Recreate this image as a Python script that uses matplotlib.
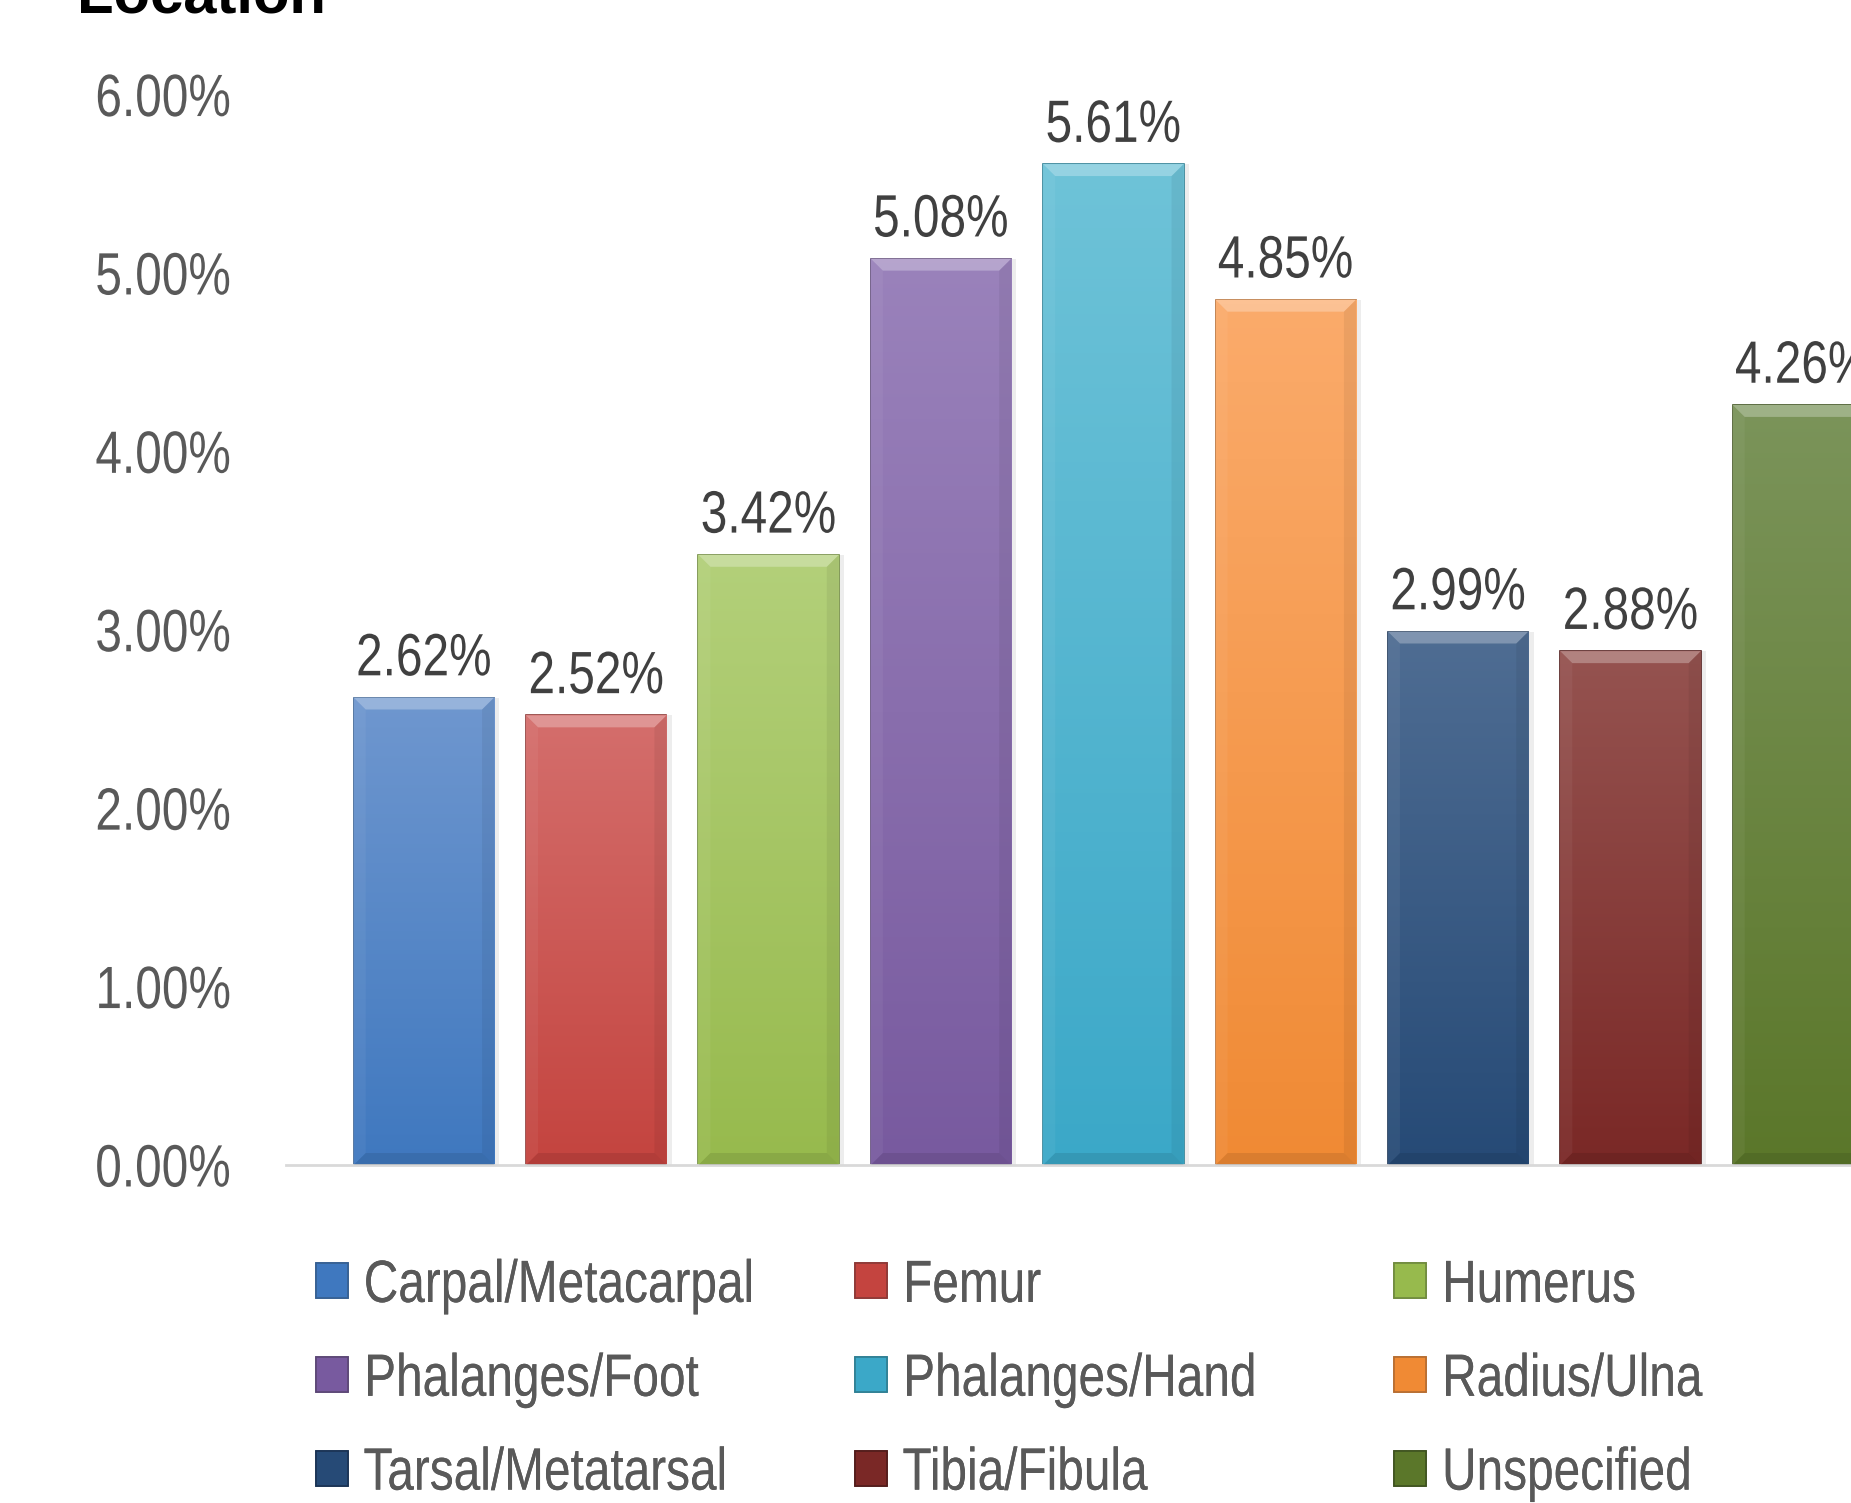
import numpy as np
import matplotlib
matplotlib.use("Agg")
import matplotlib.pyplot as plt
from matplotlib.patches import Patch
from matplotlib.ticker import PercentFormatter
from matplotlib.colors import LinearSegmentedColormap
from matplotlib.patheffects import AbstractPathEffect
from matplotlib.transforms import Affine2D

plt.rcParams['font.family'] = ['Liberation Sans', 'DejaVu Sans']

bones = ["Carpal/Metacarpal", "Femur", "Humerus", "Phalanges/Foot", "Phalanges/Hand",
         "Radius/Ulna", "Tarsal/Metatarsal", "Tibia/Fibula", "Unspecified"]
shares = [2.62, 2.52, 3.42, 5.08, 5.61, 4.85, 2.99, 2.88, 4.26]
tops = ["#6f97cf", "#d46e6c", "#b3d07a", "#9a82bb", "#6ec3d8", "#fbab6b", "#4f6d93", "#955350", "#7b945a"]
bottoms = ["#3f78bf", "#c4443f", "#97ba4d", "#785a9f", "#3ba8c8", "#f08a34", "#264a76", "#7a2826", "#5b772a"]
edges = ["#365f91", "#8c3836", "#6f8a3e", "#5c4776", "#2f7f93", "#b66d31", "#1a3354", "#521c1b", "#3f5320"]

NARROW = 0.80


class Squeeze(AbstractPathEffect):
    """Narrow the glyphs horizontally (no Arial Narrow available)."""
    def __init__(self, sx=NARROW, anchor=0.5):
        super().__init__()
        self.sx, self.anchor = sx, anchor

    def draw_path(self, renderer, gc, tpath, affine, rgbFace=None):
        ext = tpath.get_extents()
        cx = ext.x0 + self.anchor * ext.width
        t = Affine2D().translate(-cx, 0).scale(self.sx, 1).translate(cx, 0) + affine
        renderer.draw_path(gc, tpath, t, rgbFace)


fig = plt.figure(figsize=(18.51, 15.03), dpi=100)
ax = fig.add_axes([0.1545, 0.2249, 0.894, 0.7122])

x = np.arange(len(shares))
# soft shadow
ax.bar(x + 0.03, shares, width=0.815, color="black", alpha=0.07, zorder=1)
bars = ax.bar(x, shares, width=0.815, color=bottoms, edgecolor=edges, linewidth=1.2, zorder=2)

# vertical gradient + bevel inside each bar
grad = np.linspace(0, 1, 256).reshape(-1, 1)
bx, by = 0.07, 0.067
for b, top, bot in zip(bars, tops, bottoms):
    cmap = LinearSegmentedColormap.from_list("g", [bot, top])
    x0, w, h = b.get_x(), b.get_width(), b.get_height()
    im = ax.imshow(grad, cmap=cmap, extent=[x0, x0 + w, 0, h], origin="lower",
                   aspect="auto", zorder=2.5, interpolation="bicubic")
    im.set_clip_path(b)
    x1 = x0 + w
    ax.fill([x0, x1, x1 - bx, x0 + bx], [h, h, h - by, h - by], color="white", alpha=0.28, lw=0, zorder=3)
    ax.fill([x0, x1, x1 - bx, x0 + bx], [0, 0, by, by], color="black", alpha=0.09, lw=0, zorder=3)
    ax.fill([x1, x1, x1 - bx, x1 - bx], [0, h, h - by, by], color="black", alpha=0.06, lw=0, zorder=3)
    ax.fill([x0, x0, x0 + bx, x0 + bx], [0, h, h - by, by], color="white", alpha=0.05, lw=0, zorder=3)

for b, v in zip(bars, shares):
    ax.annotate(f"{v:.2f}%", (b.get_x() + b.get_width() / 2, v), xytext=(0, 16),
                textcoords="offset points", ha="center", va="baseline",
                fontsize=43, color="#404040", zorder=4,
                path_effects=[Squeeze(anchor=0.5)])

ax.set_xlim(-0.80, 8.80)
ax.set_ylim(0, 6)
ax.yaxis.set_major_formatter(PercentFormatter(decimals=2))
ax.set_yticks(np.arange(0, 7, 1))
ax.set_xticks([])
ax.tick_params(axis="y", length=0, pad=39, labelsize=43, labelcolor="#595959")
for lab in ax.get_yticklabels():
    lab.set_path_effects([Squeeze(anchor=1.0)])
for s in ["top", "right", "left"]:
    ax.spines[s].set_visible(False)
ax.spines["bottom"].set_color("#d9d9d9")
ax.spines["bottom"].set_linewidth(2)

fig.text(0.0416, 0.992, "Location", fontsize=43, fontweight="bold", color="black", va="baseline")

# legend: three columns, row-major order as in the original
handles = [Patch(facecolor=c, edgecolor=e, linewidth=1.2) for c, e in zip(bottoms, edges)]
col_x = [316 / 1851, 855 / 1851, 1394 / 1851]
for col in range(3):
    idx = [col, col + 3, col + 6]
    leg = fig.legend([handles[i] for i in idx], [bones[i] for i in idx],
                     loc="upper left", bbox_to_anchor=(col_x[col], 1 - 1259 / 1503),
                     frameon=False, fontsize=43, labelcolor="#595959",
                     handlelength=0.53, handleheight=0.53, handletextpad=0.26,
                     labelspacing=0.65, borderpad=0, borderaxespad=0)
    for t in leg.get_texts():
        t.set_path_effects([Squeeze(anchor=0.0)])
    fig.add_artist(leg)

fig.savefig("out.png", dpi=100)
